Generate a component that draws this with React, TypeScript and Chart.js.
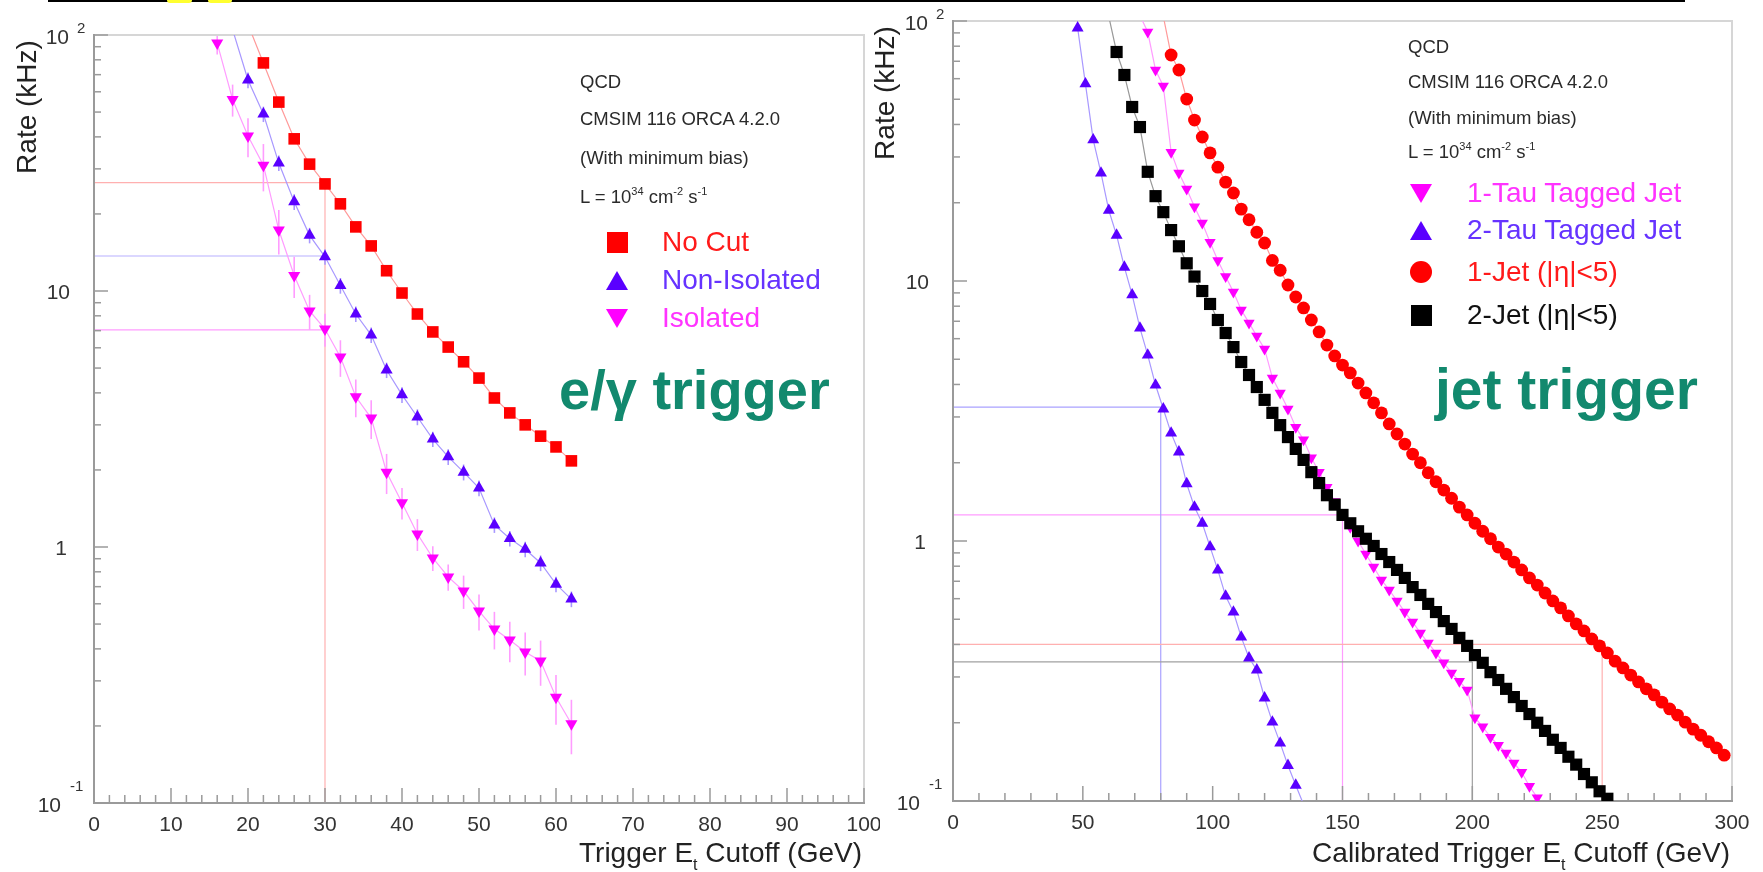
import React, { useEffect, useRef } from "react";
import { Chart, registerables } from "chart.js";
Chart.register(...registerables);

const FONT = '"Liberation Sans", Arial, Helvetica, sans-serif';

// ---------------- Left panel: e/gamma trigger ----------------
const egNoCutEt = [20, 22, 24, 26, 28, 30, 32, 34, 36, 38, 40, 42, 44, 46, 48, 50, 52, 54, 56, 58, 60, 62];
const egNoCutRate = [110, 77.8, 54.7, 39.3, 31.3, 26.2, 21.9, 17.8, 15.0, 12.0, 9.82, 8.13, 6.92, 6.04, 5.29, 4.57, 3.82, 3.34, 3.0, 2.71, 2.46, 2.17];

const egNonIsoEt = [18, 20, 22, 24, 26, 28, 30, 32, 34, 36, 38, 40, 42, 44, 46, 48, 50, 52, 54, 56, 58, 60, 62];
const egNonIsoRate = [105, 66.7, 49.1, 31.6, 22.3, 16.5, 13.6, 10.5, 8.13, 6.73, 4.91, 3.93, 3.22, 2.64, 2.25, 1.96, 1.7, 1.22, 1.08, 0.98, 0.866, 0.716, 0.626];
const egNonIsoErr = [0, 4.7, 3.4, 2.2, 1.6, 1.15, 0.95, 0.74, 0.57, 0.47, 0.34, 0.28, 0.23, 0.18, 0.16, 0.14, 0.12, 0.085, 0.076, 0.069, 0.061, 0.05, 0.044];

const egIsoEt = [16, 18, 20, 22, 24, 26, 28, 30, 32, 34, 36, 38, 40, 42, 44, 46, 48, 50, 52, 54, 56, 58, 60, 62];
const egIsoRate = [93, 56, 40.3, 31, 17.3, 11.5, 8.36, 7.1, 5.52, 3.86, 3.19, 1.96, 1.49, 1.125, 0.906, 0.764, 0.673, 0.562, 0.478, 0.433, 0.389, 0.359, 0.259, 0.204];
const egIsoErr = [9, 8, 7, 6.5, 3.4, 2.1, 1.3, 1.05, 0.9, 0.65, 0.55, 0.35, 0.21, 0.16, 0.1, 0.09, 0.1, 0.09, 0.08, 0.078, 0.074, 0.072, 0.057, 0.049];

const egThresholdEt = 30;
const egThresholdRates = [26.5, 13.7, 7.05]; // no cut, non-isolated, isolated

const leftXTicks = [0, 10, 20, 30, 40, 50, 60, 70, 80, 90, 100];

// ---------------- Right panel: jet trigger ----------------
const tau1Et = [72, 75, 78, 81, 84, 87, 90, 93, 96, 99, 102, 105, 108, 111, 114, 117, 120, 123, 126, 129, 132, 135, 138, 141, 144, 147, 150, 153, 156, 159, 162, 165, 168, 171, 174, 177, 180, 183, 186, 189, 192, 195, 198, 201, 204, 207, 210, 213, 216, 219, 222, 225];
const tau1Rate = [105, 90.7, 64.8, 56.2, 31.3, 26.0, 22.6, 19.3, 16.7, 14.1, 12.0, 10.4, 9.07, 7.74, 6.9, 6.14, 5.48, 4.24, 3.71, 3.22, 2.74, 2.45, 2.09, 1.84, 1.61, 1.42, 1.27, 1.13, 1.0, 0.891, 0.794, 0.708, 0.648, 0.588, 0.533, 0.488, 0.443, 0.405, 0.371, 0.34, 0.311, 0.289, 0.267, 0.209, 0.193, 0.176, 0.164, 0.153, 0.14, 0.129, 0.114, 0.103];

const tau2Et = [48, 51, 54, 57, 60, 63, 66, 69, 72, 75, 78, 81, 84, 87, 90, 93, 96, 99, 102, 105, 108, 111, 114, 117, 120, 123, 126, 129, 132, 135];
const tau2Rate = [94, 57.3, 34.9, 26.0, 18.7, 15.0, 11.3, 8.84, 6.59, 5.19, 3.98, 3.22, 2.6, 2.2, 1.66, 1.35, 1.17, 0.949, 0.773, 0.614, 0.533, 0.427, 0.355, 0.319, 0.249, 0.201, 0.167, 0.137, 0.115, 0.097];

const jet1Et = [81, 84, 87, 90, 93, 96, 99, 102, 105, 108, 111, 114, 117, 120, 123, 126, 129, 132, 135, 138, 141, 144, 147, 150, 153, 156, 159, 162, 165, 168, 171, 174, 177, 180, 183, 186, 189, 192, 195, 198, 201, 204, 207, 210, 213, 216, 219, 222, 225, 228, 231, 234, 237, 240, 243, 246, 249, 252, 255, 258, 261, 264, 267, 270, 273, 276, 279, 282, 285, 288, 291, 294, 297];
const jet1Rate = [104, 74.0, 64.8, 50.1, 41.6, 35.8, 31.1, 27.4, 24.0, 21.8, 18.9, 17.2, 15.4, 14.0, 12.0, 11.0, 9.65, 8.68, 7.88, 7.08, 6.37, 5.67, 5.15, 4.75, 4.43, 4.05, 3.71, 3.4, 3.11, 2.82, 2.58, 2.36, 2.16, 2.0, 1.83, 1.69, 1.57, 1.46, 1.35, 1.26, 1.17, 1.09, 1.02, 0.948, 0.891, 0.83, 0.774, 0.721, 0.677, 0.631, 0.588, 0.553, 0.515, 0.48, 0.451, 0.42, 0.395, 0.371, 0.345, 0.325, 0.305, 0.287, 0.27, 0.256, 0.24, 0.226, 0.214, 0.201, 0.189, 0.179, 0.169, 0.16, 0.15];

const jet2Et = [60, 63, 66, 69, 72, 75, 78, 81, 84, 87, 90, 93, 96, 99, 102, 105, 108, 111, 114, 117, 120, 123, 126, 129, 132, 135, 138, 141, 144, 147, 150, 153, 156, 159, 162, 165, 168, 171, 174, 177, 180, 183, 186, 189, 192, 195, 198, 201, 204, 207, 210, 213, 216, 219, 222, 225, 228, 231, 234, 237, 240, 243, 246, 249, 252];
const jet2Rate = [104, 76.0, 62.0, 46.7, 39.1, 26.3, 21.2, 18.4, 15.7, 13.6, 11.7, 10.4, 9.15, 8.16, 7.08, 6.31, 5.57, 4.88, 4.35, 3.91, 3.49, 3.11, 2.79, 2.51, 2.26, 2.05, 1.84, 1.67, 1.5, 1.38, 1.26, 1.17, 1.09, 1.02, 0.957, 0.891, 0.83, 0.774, 0.721, 0.665, 0.62, 0.573, 0.533, 0.492, 0.459, 0.424, 0.395, 0.364, 0.34, 0.313, 0.292, 0.27, 0.251, 0.232, 0.216, 0.2, 0.186, 0.172, 0.16, 0.148, 0.138, 0.127, 0.118, 0.109, 0.102];

const jetThresholdEt = [150, 80, 250, 200]; // 1-tau, 2-tau, 1-jet, 2-jet
const jetThresholdRate = [1.26, 3.27, 0.4, 0.343];

const rightXTicks = [0, 50, 100, 150, 200, 250, 300];
const yDecades = [0.1, 1, 10, 100];

// ---------------- colours ----------------
const RED = "#ff0000";
const BLUE = "#5a00ff";
const MAGENTA = "#ff00ff";
const BLACK = "#000000";
const GREEN = "#12896e";

type Threshold = { x: number; y: number; color: string; vertical: boolean };
type ErrSet = { ds: number; err: number[]; color: string };
type PanelCfg = {
  xMax: number;
  xLabels: number[];
  xMinorStep: number;
  thresholds: Threshold[];
  errors: ErrSet[];
};

function series(xs: number[], ys: number[], o: { color: string; line: string; style: string; r: number; rot?: number }) {
  return {
    data: xs.map((x, i) => ({ x, y: ys[i] })),
    showLine: true,
    borderColor: o.line,
    borderWidth: 1.2,
    backgroundColor: o.color,
    pointBackgroundColor: o.color,
    pointBorderWidth: 0,
    pointStyle: o.style,
    pointRotation: o.rot ?? 0,
    pointRadius: (c: any) => {
      const v = c.raw ? c.raw.y : 1;
      return v > 100 || v < 0.1 ? 0 : o.r;
    },
    pointHoverRadius: 0,
    tension: 0,
    fill: false,
  };
}

function line(ctx: CanvasRenderingContext2D, x1: number, y1: number, x2: number, y2: number) {
  ctx.beginPath();
  ctx.moveTo(x1, y1);
  ctx.lineTo(x2, y2);
  ctx.stroke();
}

function makePlugin(cfg: PanelCfg) {
  return {
    id: "rootStyle",
    beforeDatasetsDraw(chart: any) {
      const { ctx, chartArea: a, scales } = chart;
      const xs = scales.x;
      const ys = scales.y;
      ctx.save();
      ctx.beginPath();
      ctx.rect(a.left, a.top, a.right - a.left, a.bottom - a.top);
      ctx.clip();
      ctx.lineWidth = 1.2;
      for (const t of cfg.thresholds) {
        const px = xs.getPixelForValue(t.x);
        const py = ys.getPixelForValue(t.y);
        ctx.strokeStyle = t.color;
        line(ctx, a.left, py, px, py);
        if (t.vertical) line(ctx, px, py, px, a.bottom);
      }
      for (const e of cfg.errors) {
        const ds = chart.data.datasets[e.ds];
        ctx.strokeStyle = e.color;
        ctx.lineWidth = 1.6;
        ds.data.forEach((p: any, i: number) => {
          const er = e.err[i];
          if (!er) return;
          const px = xs.getPixelForValue(p.x);
          const y1 = ys.getPixelForValue(p.y + er);
          const y2 = ys.getPixelForValue(Math.max(p.y - er, 0.001));
          line(ctx, px, y1, px, y2);
        });
      }
      ctx.restore();

      // frame
      ctx.save();
      ctx.lineCap = "square";
      ctx.strokeStyle = "#d6d6d6";
      ctx.lineWidth = 2;
      ctx.beginPath();
      ctx.moveTo(a.left, a.top);
      ctx.lineTo(a.right, a.top);
      ctx.lineTo(a.right, a.bottom);
      ctx.stroke();
      ctx.strokeStyle = "#9a9a9a";
      ctx.beginPath();
      ctx.moveTo(a.left, a.top);
      ctx.lineTo(a.left, a.bottom);
      ctx.lineTo(a.right, a.bottom);
      ctx.stroke();
      ctx.lineWidth = 1.5;
      ctx.lineCap = "butt";
      for (let v = 0; v <= cfg.xMax + 1e-9; v += cfg.xMinorStep) {
        const px = xs.getPixelForValue(v);
        const major = cfg.xLabels.indexOf(Math.round(v)) >= 0;
        line(ctx, px, a.bottom, px, a.bottom - (major ? 15 : 8));
      }
      for (const d of yDecades) {
        const py = ys.getPixelForValue(d);
        line(ctx, a.left, py, a.left + 14, py);
        if (d < 100) {
          for (let k = 2; k <= 9; k++) {
            const pm = ys.getPixelForValue(d * k);
            line(ctx, a.left, pm, a.left + 7, pm);
          }
        }
      }
      ctx.restore();
    },
    afterDraw(chart: any) {
      const { ctx, chartArea: a, scales } = chart;
      const xs = scales.x;
      const ys = scales.y;
      ctx.save();
      ctx.fillStyle = "#333";
      ctx.textBaseline = "alphabetic";
      ctx.font = `21px ${FONT}`;
      ctx.textAlign = "center";
      for (const v of cfg.xLabels) {
        ctx.fillText(String(v), xs.getPixelForValue(v), a.bottom + 28);
      }
      const L = a.left;
      const big = `21px ${FONT}`;
      const sup = `15px ${FONT}`;
      let py = ys.getPixelForValue(100);
      ctx.font = big;
      ctx.textAlign = "right";
      ctx.fillText("10", L - 25, py + 9);
      ctx.font = sup;
      ctx.textAlign = "left";
      ctx.fillText("2", L - 17, py - 2);
      py = ys.getPixelForValue(10);
      ctx.font = big;
      ctx.textAlign = "right";
      ctx.fillText("10", L - 24, py + 8);
      py = ys.getPixelForValue(1);
      ctx.fillText("1", L - 27, py + 8);
      py = ys.getPixelForValue(0.1);
      ctx.fillText("10", L - 33, py + 9);
      ctx.font = sup;
      ctx.textAlign = "left";
      ctx.fillText("-1", L - 24, py - 12);
      ctx.restore();
    },
  };
}

const H = 872;

function Panel(props: { left: number; width: number; padding: any; datasets: any[]; cfg: PanelCfg }) {
  const ref = useRef<HTMLCanvasElement>(null);
  useEffect(() => {
    const chart = new Chart(ref.current as HTMLCanvasElement, {
      type: "line",
      data: { datasets: props.datasets as any },
      options: {
        animation: false,
        responsive: false,
        devicePixelRatio: 1,
        layout: { padding: props.padding },
        plugins: { legend: { display: false }, tooltip: { enabled: false } },
        scales: {
          x: { type: "linear", min: 0, max: props.cfg.xMax, display: false },
          y: { type: "logarithmic", min: 0.1, max: 100, display: false },
        },
      } as any,
      plugins: [makePlugin(props.cfg) as any],
    });
    return () => chart.destroy();
  }, []);
  return (
    <canvas
      ref={ref}
      width={props.width}
      height={H}
      style={{ position: "absolute", left: props.left, top: 0, width: props.width, height: H }}
    />
  );
}

function Marker({ shape, color, cx, cy }: { shape: string; color: string; cx: number; cy: number }) {
  const base: React.CSSProperties = { position: "absolute" };
  if (shape === "square")
    return <div style={{ ...base, left: cx - 10.5, top: cy - 10.5, width: 21, height: 21, background: color }} />;
  if (shape === "circle")
    return <div style={{ ...base, left: cx - 11, top: cy - 11, width: 22, height: 22, borderRadius: 11, background: color }} />;
  if (shape === "up")
    return (
      <div style={{ ...base, left: cx - 11, top: cy - 9.5, width: 0, height: 0, borderLeft: "11px solid transparent", borderRight: "11px solid transparent", borderBottom: `19px solid ${color}` }} />
    );
  return (
    <div style={{ ...base, left: cx - 11, top: cy - 9.5, width: 0, height: 0, borderLeft: "11px solid transparent", borderRight: "11px solid transparent", borderTop: `19px solid ${color}` }} />
  );
}

function Txt(props: { x: number; cy: number; size: number; color: string; bold?: boolean; align?: "right"; children: any }) {
  const style: React.CSSProperties = {
    position: "absolute",
    top: props.cy - props.size * 0.49,
    fontFamily: FONT,
    fontSize: props.size,
    lineHeight: 1,
    color: props.color,
    whiteSpace: "nowrap",
    fontWeight: props.bold ? "bold" : "normal",
  };
  if (props.align === "right") style.right = 1763 - props.x;
  else style.left = props.x;
  return <div style={style}>{props.children}</div>;
}

const supS: React.CSSProperties = { fontSize: 11, position: "relative", top: -8 };
const subS: React.CSSProperties = { fontSize: 16, position: "relative", top: 8 };

function Info({ x, ys }: { x: number; ys: number[] }) {
  const c = "#2a2a2a";
  return (
    <>
      <Txt x={x} cy={ys[0]} size={18.5} color={c}>QCD</Txt>
      <Txt x={x} cy={ys[1]} size={18.5} color={c}>CMSIM 116 ORCA 4.2.0</Txt>
      <Txt x={x} cy={ys[2]} size={18.5} color={c}>(With minimum bias)</Txt>
      <Txt x={x} cy={ys[3]} size={18.5} color={c}>
        L = 10<span style={supS}>34</span> cm<span style={supS}>-2</span> s<span style={supS}>-1</span>
      </Txt>
    </>
  );
}

function RotLabel({ cx, cy }: { cx: number; cy: number }) {
  return (
    <div
      style={{
        position: "absolute",
        left: cx - 100,
        top: cy - 14,
        width: 200,
        height: 28,
        textAlign: "center",
        fontFamily: FONT,
        fontSize: 28,
        lineHeight: "28px",
        color: "#222",
        transform: "rotate(-90deg)",
        whiteSpace: "nowrap",
      }}
    >
      Rate (kHz)
    </div>
  );
}

export default function App() {
  const leftDatasets = [
    series(egNoCutEt, egNoCutRate, { color: RED, line: "#ff9a9a", style: "rect", r: 8.2 }),
    series(egNonIsoEt, egNonIsoRate, { color: BLUE, line: "#a898ff", style: "triangle", r: 7.0 }),
    series(egIsoEt, egIsoRate, { color: MAGENTA, line: "#ff9cff", style: "triangle", r: 7.0, rot: 180 }),
  ];
  const leftCfg: PanelCfg = {
    xMax: 100,
    xLabels: leftXTicks,
    xMinorStep: 2,
    thresholds: [
      { x: egThresholdEt, y: egThresholdRates[1], color: "#b8b0ff", vertical: false },
      { x: egThresholdEt, y: egThresholdRates[2], color: "#ff9cff", vertical: false },
      { x: egThresholdEt, y: egThresholdRates[0], color: "#ffb0b0", vertical: true },
    ],
    errors: [
      { ds: 1, err: egNonIsoErr, color: "#a898ff" },
      { ds: 2, err: egIsoErr, color: "#ff9cff" },
    ],
  };

  const rightDatasets = [
    series(jet2Et, jet2Rate, { color: BLACK, line: "#999999", style: "rect", r: 8.6 }),
    series(jet1Et, jet1Rate, { color: RED, line: "#ff9a9a", style: "circle", r: 6.4 }),
    series(tau1Et, tau1Rate, { color: MAGENTA, line: "#ff9cff", style: "triangle", r: 6.5, rot: 180 }),
    series(tau2Et, tau2Rate, { color: BLUE, line: "#a898ff", style: "triangle", r: 6.9 }),
  ];
  const rightCfg: PanelCfg = {
    xMax: 300,
    xLabels: rightXTicks,
    xMinorStep: 10,
    thresholds: [
      { x: jetThresholdEt[0], y: jetThresholdRate[0], color: "#ff9cff", vertical: true },
      { x: jetThresholdEt[1], y: jetThresholdRate[1], color: "#aaa2ff", vertical: true },
      { x: jetThresholdEt[2], y: jetThresholdRate[2], color: "#ffb0b0", vertical: true },
      { x: jetThresholdEt[3], y: jetThresholdRate[3], color: "#a0a0a0", vertical: true },
    ],
    errors: [],
  };

  return (
    <div style={{ position: "absolute", left: 0, top: 0, width: 1763, height: H, background: "#fff", overflow: "hidden" }}>
      <div style={{ position: "absolute", left: 48, top: 0, width: 1637, height: 2, background: "#000" }} />
      <div style={{ position: "absolute", left: 167, top: 0, width: 25, height: 3, background: "#ffff30", borderRadius: "0 0 8px 8px" }} />
      <div style={{ position: "absolute", left: 208, top: 0, width: 24, height: 3, background: "#ffff30", borderRadius: "0 0 8px 8px" }} />

      <Panel left={0} width={880} padding={{ left: 94, right: 16, top: 35, bottom: 69 }} datasets={leftDatasets} cfg={leftCfg} />
      <Panel left={880} width={883} padding={{ left: 73, right: 31, top: 21, bottom: 71 }} datasets={rightDatasets} cfg={rightCfg} />

      <RotLabel cx={27} cy={107} />
      <RotLabel cx={885} cy={93} />

      <Txt x={862} cy={853} size={28} color="#222" align="right">
        Trigger E<span style={subS}>t</span> Cutoff (GeV)
      </Txt>
      <Txt x={1730} cy={853} size={28} color="#222" align="right">
        Calibrated Trigger E<span style={subS}>t</span> Cutoff (GeV)
      </Txt>

      <Info x={580} ys={[82, 119, 158, 197]} />
      <Marker shape="square" color={RED} cx={617} cy={242} />
      <Marker shape="up" color={BLUE} cx={617} cy={280} />
      <Marker shape="down" color={MAGENTA} cx={617} cy={318} />
      <Txt x={662} cy={242} size={28} color="#ff1a1a">No Cut</Txt>
      <Txt x={662} cy={280} size={28} color="#6633ff">Non-Isolated</Txt>
      <Txt x={662} cy={318} size={28} color="#ff33ff">Isolated</Txt>
      <Txt x={559} cy={389} size={56} color={GREEN} bold>e/γ trigger</Txt>

      <Info x={1408} ys={[47, 82, 118, 152]} />
      <Marker shape="down" color={MAGENTA} cx={1421} cy={193} />
      <Marker shape="up" color={BLUE} cx={1421} cy={230} />
      <Marker shape="circle" color={RED} cx={1421} cy={272} />
      <Marker shape="square" color={BLACK} cx={1421} cy={315} />
      <Txt x={1467} cy={193} size={28} color="#ff33ff">1-Tau Tagged Jet</Txt>
      <Txt x={1467} cy={230} size={28} color="#6633ff">2-Tau Tagged Jet</Txt>
      <Txt x={1467} cy={272} size={28} color="#ff1a1a">1-Jet (|η|&lt;5)</Txt>
      <Txt x={1467} cy={315} size={28} color="#111">2-Jet (|η|&lt;5)</Txt>
      <Txt x={1435} cy={389} size={57} color={GREEN} bold>jet trigger</Txt>
    </div>
  );
}
